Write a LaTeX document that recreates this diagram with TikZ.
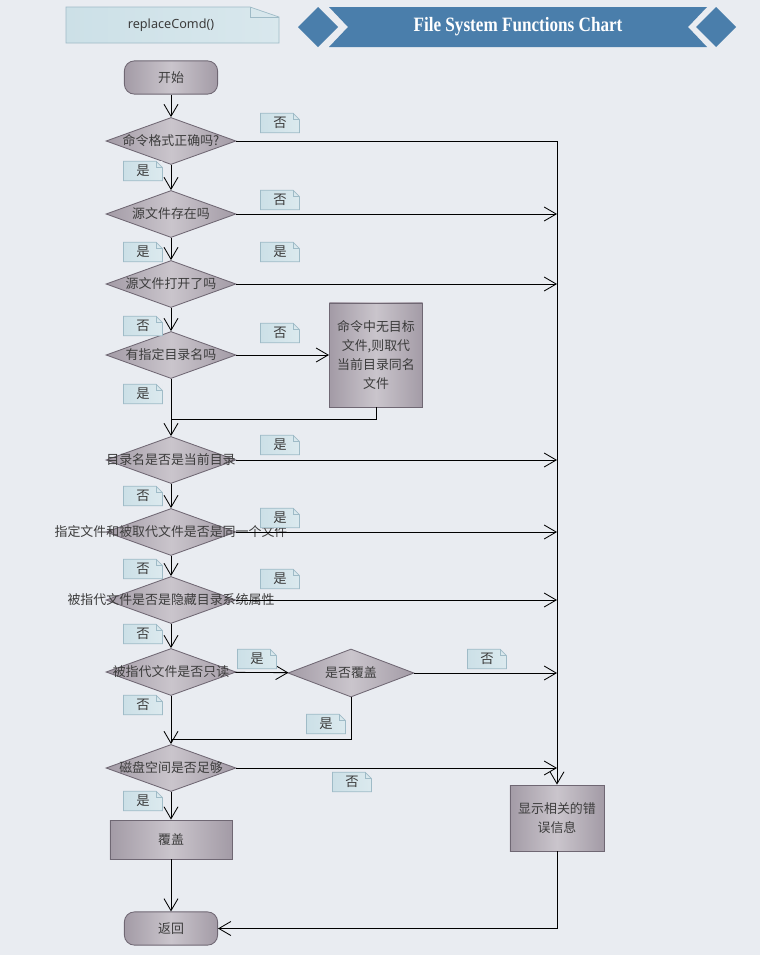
\documentclass[tikz,border=0pt]{standalone}
\usepackage{fontspec}
\setmainfont{Noto Sans CJK SC}
\newfontfamily\titlefont{Liberation Serif}
\newfontfamily\notefont{Noto Sans}
\usetikzlibrary{shapes.geometric,arrows.meta,calc}

\definecolor{bgcol}{HTML}{E9ECF1}
\definecolor{boxdark}{HTML}{A39BA6}
\definecolor{boxlight}{HTML}{CAC5CC}
\definecolor{boxline}{HTML}{6F6773}
\definecolor{tagfill}{HTML}{CCE0E7}
\definecolor{tagline}{HTML}{9FBBC7}
\definecolor{banner}{HTML}{4A7EAB}
\definecolor{txt}{HTML}{3C3C3C}

\tikzset{
  shade box/.style={draw=boxline, left color=boxdark, right color=boxdark,
    middle color=boxlight, text=txt, font=\fontsize{9.2}{13.5}\selectfont},
  ask text/.style={text=txt, font=\fontsize{9.2}{11}\selectfont, inner sep=0pt},
  decision/.style={shade box, diamond, minimum width=3.25cm, minimum height=1.175cm,
    inner sep=0pt, label={[ask text]center:#1}},
  terminal/.style={shade box, rectangle, rounded corners=0.25cm,
    minimum width=2.33cm, minimum height=0.83cm},
  process/.style={shade box, rectangle, align=center},
  tag/.style={left color=tagfill, right color=tagfill!70!white, minimum width=0.95cm,
    minimum height=0.47cm, inner sep=0pt, text=txt, font=\fontsize{9.5}{11}\selectfont},
  arr/.style={-{Straight Barb[length=0.3cm,width=0.35cm]}},
}

% little note with a folded corner
\newcommand{\tagnote}[3]{%
  \node[tag] (#1) at (#2) {#3};
  \fill[bgcol] ([xshift=-0.16cm]#1.north east) -- (#1.north east)
    -- ([yshift=-0.16cm]#1.north east) -- cycle;
  \draw[tagline, line width=0.5pt] (#1.north west) -- ([xshift=-0.16cm]#1.north east)
    -- ([yshift=-0.16cm]#1.north east) -- (#1.south east) -- (#1.south west) -- cycle;
  \draw[tagline, line width=0.3pt] ([xshift=-0.16cm]#1.north east)
    |- ([yshift=-0.16cm]#1.north east);
}

\begin{document}
\begin{tikzpicture}[x=0.025cm, y=-0.025cm, line width=0.6pt]
\fill[bgcol] (0,0) rectangle (760,955);
\useasboundingbox (0,0) rectangle (760,955);

% header
\shade[left color=tagfill, right color=tagfill!75!white] (66,7) -- (250,7) -- (279,17) -- (279,43) -- (66,43) -- cycle;
\draw[tagline, line width=0.5pt] (66,7) -- (250,7) -- (279,17) -- (279,43) -- (66,43) -- cycle;
\draw[tagline, line width=0.3pt] (250,7) -- (250,17) -- (279,17);
\node[text=txt, font=\notefont\fontsize{9}{11}\selectfont] (func) at (171,25) {replaceComd()};

\fill[banner] (298,27) -- (318,7) -- (338,27) -- (318,47) -- cycle;
\fill[banner] (696,27) -- (716,7) -- (736,27) -- (716,47) -- cycle;
\fill[banner] (329,7) -- (707,7) -- (688,27) -- (707,47) -- (329,47) -- (348,27) -- cycle;
\node[text=white, font=\titlefont\bfseries\fontsize{14.5}{16}\selectfont,
  xscale=0.84, transform shape] (title) at (518,27) {File System Functions Chart};

% main column
\node[terminal] (start) at (171,77.5) {开始};
\node[decision=命令格式正确吗?] (d1) at (171,141) {};
\node[decision=源文件存在吗] (d2) at (171,214) {};
\node[decision=源文件打开了吗] (d3) at (171,284) {};
\node[decision=有指定目录名吗] (d4) at (171,355) {};
\node[process, minimum width=2.33cm, minimum height=2.6cm] (keep) at (376,355)
  {命令中无目标\\文件,则取代\\当前目录同名\\文件};
\node[decision=目录名是否是当前目录] (d5) at (171,460) {};
\node[decision=指定文件和被取代文件是否是同一个文件] (d6) at (171,532) {};
\node[decision=被指代文件是否是隐藏目录系统属性] (d7) at (171,600) {};
\node[decision=被指代文件是否只读] (d8) at (171,672) {};
\node[decision=是否覆盖, minimum width=3.15cm, minimum height=1.2cm] (d9) at (351,673) {};
\node[decision=磁盘空间是否足够] (d10) at (171,768) {};
\node[process, minimum width=3.05cm, minimum height=0.975cm] (cover) at (171,839.5) {覆盖};
\node[terminal] (ret) at (171,928.5) {返回};
\node[process, minimum width=2.35cm, minimum height=1.65cm] (err) at (557,818)
  {显示相关的错\\误信息};

\coordinate (j1) at (171,419);
\coordinate (j2) at (171,739);

% connectors
\draw[arr] (start) -- (d1);
\draw[arr] (d1) -- (d2);
\draw[arr] (d2) -- (d3);
\draw[arr] (d3) -- (d4);
\draw[arr] (d4) -- (d5);
\draw[arr] (d5) -- (d6);
\draw[arr] (d6) -- (d7);
\draw[arr] (d7) -- (d8);
\draw[arr] (d8) -- (d10);
\draw[arr] (d10) -- (cover);
\draw[arr] (cover) -- (ret);
\draw[arr] (d4) -- (keep);
\draw (keep.south) |- (j1);
\draw[arr] (d8) -- (d9);
\draw (d9.south) |- (j2);
\draw[arr] (d1.east) -| (err.north);
\foreach \d in {d2,d3,d5,d6,d7,d9,d10}
  \draw[arr] (\d.east) -- (\d.east -| err.north);
\draw[arr] (err.south) |- (ret.east);

% yes / no notes
\foreach \tx/\ty/\t [count=\i] in {280/123/否, 143/171/是, 280/200/否, 143/252/是,
    280/252/是, 143/326/否, 280/333/否, 143/394/是, 280/445/是, 143/496/否,
    280/518/是, 143/569/否, 280/579/是, 143/634/否, 257/659/是, 487/659/否,
    143/705/否, 326/724/是, 352/782/否, 143/801/是}
  \tagnote{t\i}{\tx,\ty}{\t};

\end{tikzpicture}
\end{document}
